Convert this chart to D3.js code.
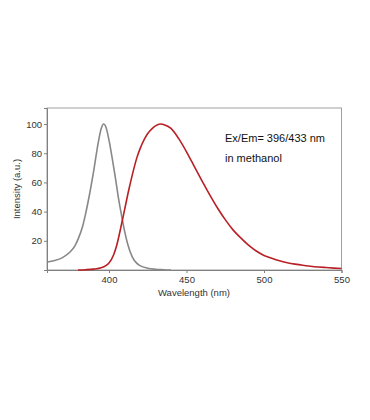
<!DOCTYPE html>
<html><head><meta charset="utf-8">
<script src="https://cdn.jsdelivr.net/npm/d3@7"></script>
<style>body{margin:0;background:#fff;}svg{display:block;font-family:"Liberation Sans",Arial,sans-serif;}</style>
</head><body>
<svg id="c" width="370" height="420"></svg>
<script>
const exWavelength = [360,365,370,375,378,380,383,385,388,390,393,395,396.5,398,400,402,404,406,408,410,412,415,418,420,425,430,435,440];
const exIntensity  = [5.5,6.5,8.5,12.5,16.5,21,30,39,55,67,87,97,100,98,89,77,64,50,38,27,18,9,4.5,3,1.2,0.5,0.2,0];
const emWavelength = [380,385,390,395,398,400,403,405,408,410,413,415,418,420,423,425,428,430,433,436,440,445,450,455,460,465,470,475,480,485,490,495,500,505,510,515,520,525,530,535,540,545,550];
const emIntensity  = [0,0.2,0.6,1.5,3,4.8,10.5,17,31,41,56,65,77,83,90,93.5,97,98.7,100,99.4,97,90,81,71,61,51.5,42.5,34.5,27.5,22,17,13,10,8,6.3,5,4,3.2,2.6,2.1,1.7,1.3,1];
const xTicks = [400,450,500,550];
const yTicks = [20,40,60,80,100];
const xTitle = "Wavelength (nm)";
const yTitle = "Intensity (a.u.)";
const notes = ["Ex/Em= 396/433 nm","in methanol"];

const svg = d3.select("#c");
const x = d3.scaleLinear().domain([360,550]).range([47,341.5]);
const y = d3.scaleLinear().domain([0,111]).range([270,108]);

svg.append("rect").attr("x",47).attr("y",108).attr("width",341.5-47).attr("height",270-108)
  .attr("fill","none").attr("stroke","#a0a0a0").attr("stroke-width",1);

const xa = svg.append("g").attr("transform","translate(0,270)")
  .call(d3.axisBottom(x).tickValues(xTicks).tickSize(3).tickPadding(3));
xa.select(".domain").attr("stroke","#808080");
xa.selectAll("line").attr("stroke","#808080");
xa.selectAll("text").attr("font-size","9.5px").attr("fill","#333");

const ya = svg.append("g").attr("transform","translate(47,0)")
  .call(d3.axisLeft(y).tickValues(yTicks).tickSize(3).tickPadding(2));
ya.select(".domain").attr("stroke","#808080");
ya.selectAll("line").attr("stroke","#808080");
ya.selectAll("text").attr("font-size","9.5px").attr("fill","#333");

svg.append("text").attr("x",194).attr("y",296).attr("text-anchor","middle")
  .attr("font-size","9.5px").attr("fill","#333").text(xTitle);
svg.append("text").attr("transform","translate(20,189) rotate(-90)").attr("text-anchor","middle")
  .attr("font-size","9.5px").attr("fill","#333").text(yTitle);

const line = d3.line().x(d=>x(d[0])).y(d=>y(d[1])).curve(d3.curveMonotoneX);
svg.append("path").datum(exWavelength.map((w,i)=>[w,exIntensity[i]]))
  .attr("d",line).attr("fill","none").attr("stroke","#888888").attr("stroke-width",1.6);
svg.append("path").datum(emWavelength.map((w,i)=>[w,emIntensity[i]]))
  .attr("d",line).attr("fill","none").attr("stroke","#b82025").attr("stroke-width",1.6);

svg.append("text").attr("x",225).attr("y",142).attr("font-size","11px").attr("fill","#111").text(notes[0]);
svg.append("text").attr("x",225).attr("y",162).attr("font-size","11px").attr("fill","#111").text(notes[1]);
</script>
</body></html>
